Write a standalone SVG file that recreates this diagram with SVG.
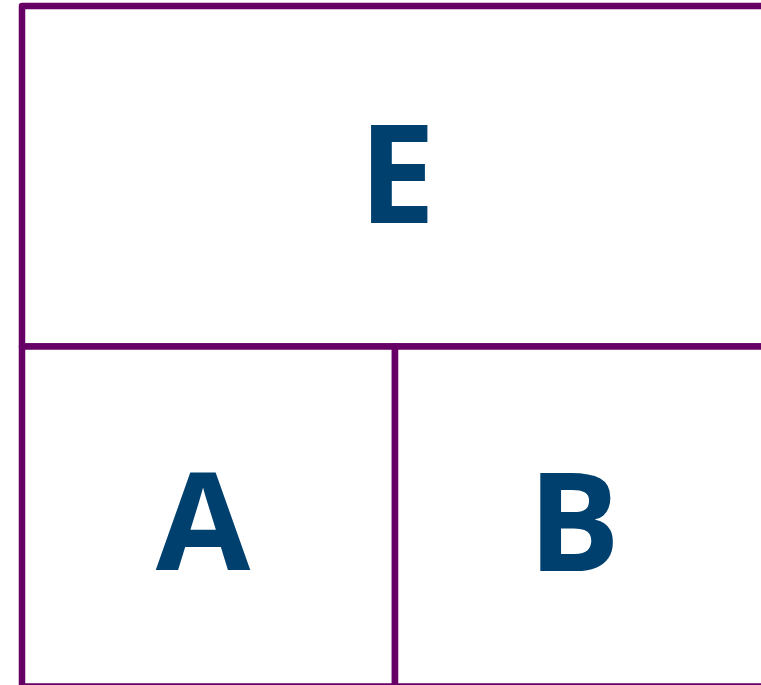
<svg xmlns="http://www.w3.org/2000/svg" width="761" height="685" viewBox="0 0 761 685">
<style>
.box{fill:#ffffff;stroke:#660066;stroke-width:6.5;stroke-linejoin:round}
.lbl{font-family:"Open Sans","DejaVu Sans",sans-serif;font-weight:bold;font-size:137px;fill:#00406F;text-anchor:middle}
</style>
<rect width="761" height="685" fill="#ffffff"/>
<g id="E">
<rect class="box" x="22" y="6" width="800" height="340.5"/>
<text class="lbl" x="397" y="223">E</text>
</g>
<g id="A">
<rect class="box" x="22" y="346.5" width="373" height="340"/>
<text class="lbl" x="203" y="570">A</text>
</g>
<g id="B">
<rect class="box" x="395" y="346.5" width="500" height="340"/>
<text class="lbl" x="574" y="571">B</text>
</g>
<g id="connectors"></g>
</svg>
